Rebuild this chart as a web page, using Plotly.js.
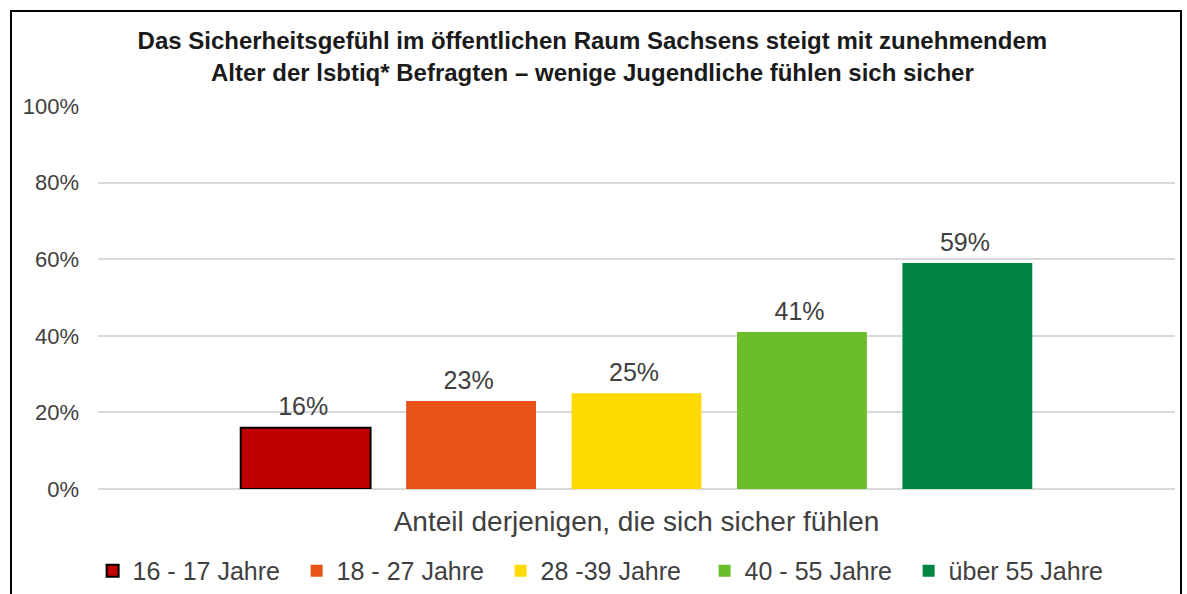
<!DOCTYPE html>
<html><head><meta charset="utf-8">
<script src="https://cdn.plot.ly/plotly-3.0.1.min.js"></script>
<style>
html,body{margin:0;padding:0;background:#fff;}
#frame{position:absolute;left:10px;top:10px;width:1168px;height:600px;border:2px solid #000;pointer-events:none;z-index:10;}
#chart{width:1187px;height:594px;}
</style></head><body>
<div id="chart"></div><div id="frame"></div>
<script>
const category = ["Anteil derjenigen, die sich sicher fühlen"];
const groups = ["16 - 17 Jahre", "18 - 27 Jahre", "28 -39 Jahre", "40 - 55 Jahre", "über 55 Jahre"];
const values = [16, 23, 25, 41, 59];
const colors = ["#C00000", "#E65218", "#FFDA00", "#6BBD2A", "#008542"];
const yTickVals = [0, 20, 40, 60, 80, 100];
const yTickText = ["0%", "20%", "40%", "60%", "80%", "100%"];

const traces = groups.map((g, i) => ({
  type: 'bar', name: g, x: category, y: [values[i]],
  marker: {color: colors[i], line: {color: i === 0 ? '#000' : colors[i], width: i === 0 ? 2 : 0}},
  texttemplate: '%{y}%<sub>\u00a0</sub>', textposition: 'outside', cliponaxis: false,
  textfont: {size: 25, color: '#404040', family: 'Liberation Sans, Arial, sans-serif'},
  hoverinfo: 'none'
}));

const layout = {
  width: 1187, height: 594,
  margin: {l: 98, r: 12, t: 106, b: 105, autoexpand: false},
  paper_bgcolor: '#fff', plot_bgcolor: '#fff',
  font: {family: 'Liberation Sans, Arial, sans-serif', color: '#404040'},
  title: {text: '<b>Das Sicherheitsgefühl im öffentlichen Raum Sachsens steigt mit zunehmendem<br>Alter der lsbtiq* Befragten – wenige Jugendliche fühlen sich sicher</b>',
    x: 0.499, xanchor: 'center', y: 0.917, yanchor: 'middle', yref: 'container',
    font: {size: 24, color: '#1a1a1a'}},
  barmode: 'group', bargap: 0.232, bargroupgap: 0.215,
  xaxis: {type: 'category', showticklabels: false, ticks: '', showgrid: false, zeroline: false, showline: false, automargin: false,
    title: {text: category[0], standoff: 22, font: {size: 28, color: '#404040'}}},
  yaxis: {range: [0, 100], tickvals: yTickVals, ticktext: yTickText, showgrid: true, gridcolor: '#D9D9D9', gridwidth: 2,
    zeroline: true, zerolinecolor: '#D9D9D9', zerolinewidth: 2, showline: false, ticks: '', ticklabelstandoff: 18, automargin: false,
    tickfont: {size: 22, color: '#404040'}},
  legend: {orientation: 'h', x: -0.005, xanchor: 'left', y: -0.214, yanchor: 'middle', font: {size: 25, color: '#404040'},
    itemwidth: 30, traceorder: 'normal', entrywidth: 159},
  showlegend: true
};
Plotly.newPlot('chart', traces, layout, {displayModeBar: false, staticPlot: true});
</script></body></html>
